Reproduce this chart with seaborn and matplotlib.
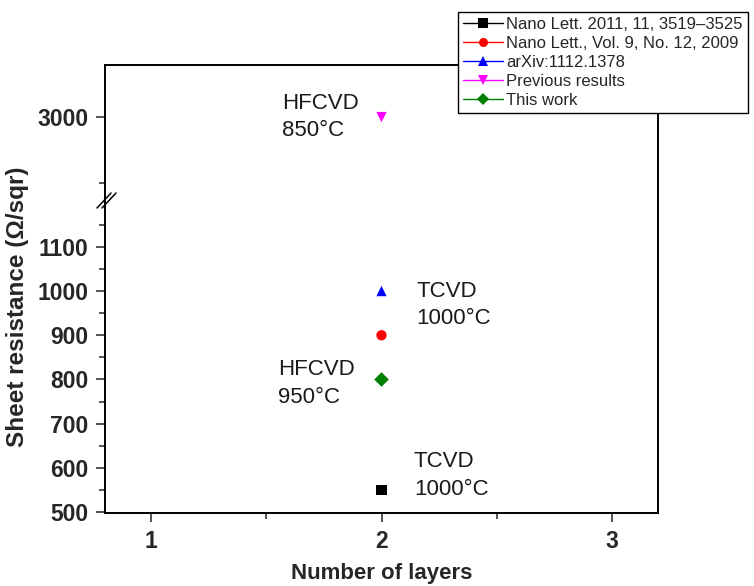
import numpy as np
import pandas as pd
import matplotlib
matplotlib.use('Agg')
import matplotlib.pyplot as plt
from matplotlib.lines import Line2D
from matplotlib.ticker import FixedLocator
import seaborn as sns

# data
sources = ['Nano Lett. 2011, 11, 3519\u20133525',
           'Nano Lett., Vol. 9, No. 12, 2009',
           'arXiv:1112.1378',
           'Previous results',
           'This work']
layers = [2, 2, 2, 2, 2]
resistance = [550, 900, 1000, 3000, 800]
colors = ['#000000', '#ff0000', '#0000ff', '#ff00ff', '#007f00']
markers = ['s', 'o', '^', 'v', 'D']

notes = ['HFCVD\n850\u00b0C', 'TCVD\n1000\u00b0C', 'HFCVD\n950\u00b0C', 'TCVD\n1000\u00b0C']
note_x = [1.57, 2.15, 1.55, 2.14]
note_y = [3000, 968, 791, 583]

sns.set_style('ticks')
plt.rcParams['font.family'] = ['Liberation Sans', 'DejaVu Sans']

df = pd.DataFrame({'source': sources, 'layers': layers, 'resistance': resistance})
palette = dict(zip(sources, colors))
marker_map = dict(zip(sources, markers))

W, H = 754, 586
fig = plt.figure(figsize=(W / 100, H / 100), dpi=100)
gs = fig.add_gridspec(2, 1, height_ratios=[135, 313], hspace=0,
                      left=105 / W, right=658 / W, bottom=1 - 513 / H, top=1 - 65 / H)
ax_top = fig.add_subplot(gs[0])
ax_bot = fig.add_subplot(gs[1], sharex=ax_top)

for ax in (ax_top, ax_bot):
    sns.scatterplot(data=df, x='layers', y='resistance', hue='source', style='source',
                    palette=palette, markers=marker_map, s=55, edgecolor='none',
                    legend=False, ax=ax)
    ax.set_xlabel('')
    ax.set_ylabel('')
    for sp in ax.spines.values():
        sp.set_linewidth(1.4)
        sp.set_color('black')
    ax.tick_params(which='major', direction='out', length=6.7, width=1.1, pad=5.5,
                   labelsize=16.5)
    ax.tick_params(which='minor', direction='out', length=4.5, width=1.1)

ax_top.set_ylim(2812, 3118)
ax_bot.set_ylim(498, 1206)
ax_bot.set_xlim(0.8, 3.2)

ax_top.yaxis.set_major_locator(FixedLocator([3000]))
ax_top.yaxis.set_minor_locator(FixedLocator([2850]))
ax_bot.yaxis.set_major_locator(FixedLocator(np.arange(500, 1101, 100)))
ax_bot.yaxis.set_minor_locator(FixedLocator(np.arange(550, 1151, 100)))
ax_bot.xaxis.set_major_locator(FixedLocator([1, 2, 3]))
ax_bot.xaxis.set_minor_locator(FixedLocator([1.5, 2.5]))

ax_top.spines['bottom'].set_visible(False)
ax_bot.spines['top'].set_visible(False)
ax_top.tick_params(axis='x', which='both', bottom=False, labelbottom=False)

for ax in (ax_top, ax_bot):
    for lab in ax.get_yticklabels() + ax.get_xticklabels():
        lab.set_fontweight('bold')

# annotations
for i, txt in enumerate(notes):
    ax = ax_top if note_y[i] > 2000 else ax_bot
    ax.text(note_x[i], note_y[i], txt, fontsize=16, ha='left', va='center',
            linespacing=1.4, color='#1a1a1a')

ax_bot.set_xlabel('Number of layers', fontsize=16, fontweight='bold', labelpad=7)
fig.text(18 / W, 1 - 307 / H, 'Sheet resistance (\u03a9/sqr)', rotation=90,
         fontsize=17.5, fontweight='bold', ha='center', va='center')

# axis break marks
for dx in (0, 5):
    fig.add_artist(Line2D([(97 + dx) / W, (111 + dx) / W],
                          [1 - 208 / H, 1 - 193 / H], color='black', lw=1.1))

# legend
handles = [Line2D([], [], color=c, marker=m, markersize=6.5, lw=1, markeredgewidth=0)
           for c, m in zip(colors, markers)]
leg = fig.legend(handles, sources, loc='upper left', bbox_to_anchor=(458 / W, 1 - 12 / H),
                 frameon=True, fancybox=False, edgecolor='black', framealpha=1,
                 fontsize=12, handlelength=2.4, borderpad=0.3, labelspacing=0.24,
                 handletextpad=0.2, borderaxespad=0)
leg.get_frame().set_linewidth(1)

fig.savefig('out.png', dpi=100)
